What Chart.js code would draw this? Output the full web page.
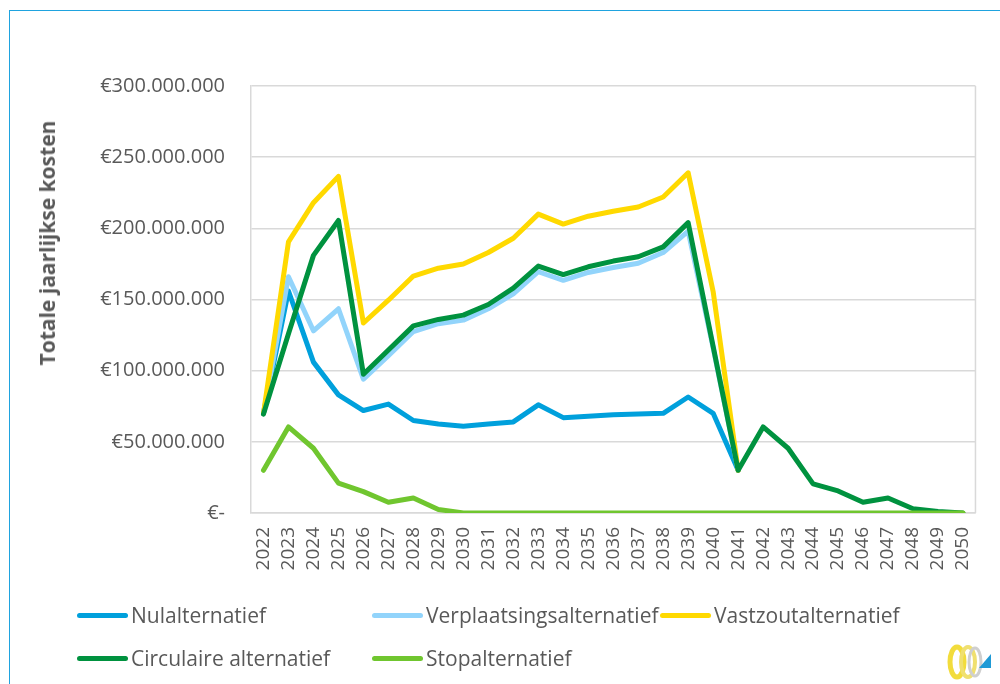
<!DOCTYPE html>
<html>
<head>
<meta charset="utf-8">
<script src="https://cdn.jsdelivr.net/npm/chart.js@4.4.1/dist/chart.umd.min.js"></script>
<style>
    html, body { margin: 0; padding: 0; background: #fff; }
    body { width: 1000px; height: 684px; position: relative; overflow: hidden; font-family: "Open Sans", sans-serif; }
    #frame { position: absolute; left: 9px; top: 10px; width: 1200px; height: 900px; border: 1px solid #1fa3df; }
    #canvas-graph { position: absolute; left: 0; top: 0; }
    #y-title { position: absolute; left: 47px; top: 243px; transform: translate(-50%, -50%) rotate(-90deg);
               white-space: nowrap; font-weight: bold; font-size: 21px; color: #595959; }
    .legend-item { position: absolute; display: flex; align-items: center; font-size: 21px; color: #595959; white-space: nowrap; }
    .legend-line { width: 51px; height: 5px; border-radius: 3px; margin-right: 3px; }
    #logo { position: absolute; left: 944px; top: 642px; }
</style>
</head>
<body>
<div id="frame"></div>
<canvas id="canvas-graph" width="1000" height="684"></canvas>
<div id="y-title">Totale jaarlijkse kosten</div>
<div id="legend"></div>
<svg id="logo" width="52" height="40" viewBox="0 0 52 40">
    <ellipse cx="13" cy="20" rx="7" ry="15" fill="none" stroke="#f2dc3c" stroke-width="5"/>
    <ellipse cx="24" cy="20" rx="7" ry="15" fill="none" stroke="#f0e070" stroke-width="4"/>
    <ellipse cx="31" cy="20" rx="6" ry="14" fill="none" stroke="#cfcfcf" stroke-width="3"/>
    <polygon points="35,26 47,26 47,12" fill="#1f9ad6"/>
</svg>

<script>
// years on the x axis
var years = ['2022', '2023', '2024', '2025', '2026', '2027', '2028', '2029', '2030', '2031',
    '2032', '2033', '2034', '2035', '2036', '2037', '2038', '2039', '2040', '2041',
    '2042', '2043', '2044', '2045', '2046', '2047', '2048', '2049', '2050'];

// yearly costs in millions of euros
var nulalternatief = [70, 156, 106, 83, 72, 76.5, 65, 62.5, 61, 62.5,
    64, 76, 67, 68, 69, 69.5, 70, 81.5, 70, 30,
    null, null, null, null, null, null, null, null, null];
var verplaatsingsalternatief = [70, 166, 128, 143.5, 94, 110.5, 127.5, 133, 135.5, 143.5,
    154, 169.5, 163.5, 169, 172.5, 175.5, 183, 198, 116, 30,
    null, null, null, null, null, null, null, null, null];
var vastzoutalternatief = [70, 190.5, 218, 236.5, 133.5, 149.5, 166.5, 172, 175, 183,
    193, 210, 203, 208.5, 212, 215, 222, 239, 155.5, 30,
    null, null, null, null, null, null, null, null, null];
var circulaireAlternatief = [69.5, 126, 181, 205.5, 97.5, 114.5, 131.5, 136, 139, 146.5,
    158, 173.5, 167.5, 173, 177, 180, 187, 204, 117, 30,
    60.5, 45.5, 20.5, 15.5, 7.5, 10.5, 3, 1, 0];
var stopalternatief = [30, 60.5, 45.5, 21, 15, 7.5, 10.5, 2.5, 0, 0,
    0, 0, 0, 0, 0, 0, 0, 0, 0, 0,
    0, 0, 0, 0, 0, 0, 0, 0, 0];

// y axis ticks in millions
var yTicks = [0, 50, 100, 150, 200, 250, 300];

var seriesNames = ['Nulalternatief', 'Verplaatsingsalternatief', 'Vastzoutalternatief', 'Circulaire alternatief', 'Stopalternatief'];
var seriesData = [nulalternatief, verplaatsingsalternatief, vastzoutalternatief, circulaireAlternatief, stopalternatief];
var seriesColors = ['#00a0dc', '#92d4fb', '#ffd900', '#00923f', '#70c62f'];

// legend positions (two rows, three columns like the original)
var legendPos = [[77, 616], [372, 616], [660, 616], [77, 659], [372, 659]];

function euro(v) {
    if (v === 0) return '€-';
    var s = String(Math.round(v * 1000000));
    return '€' + s.replace(/\B(?=(\d{3})+(?!\d))/g, '.');
}

window.addEventListener('load', () => {
    const datasets = seriesNames.map((name, i) => ({
        label: name,
        data: seriesData[i],
        borderColor: seriesColors[i],
        backgroundColor: seriesColors[i],
        borderWidth: 5,
        pointRadius: 0,
        borderJoinStyle: 'round',
        borderCapStyle: 'round',
        tension: 0,
        spanGaps: false,
        order: seriesNames.length - i
    }));

    // right edge of the plot box
    const plotFrame = {
        id: 'plotFrame',
        afterDraw(chart) {
            const a = chart.chartArea;
            const ctx = chart.ctx;
            ctx.save();
            ctx.strokeStyle = '#d9d9d9';
            ctx.lineWidth = 1.5;
            ctx.beginPath();
            ctx.moveTo(a.right, a.top);
            ctx.lineTo(a.right, a.bottom);
            ctx.stroke();
            ctx.restore();
        }
    };

    const config = {
        type: 'line',
        data: { labels: years, datasets: datasets },
        plugins: [plotFrame],
        options: {
            responsive: false,
            animation: false,
            devicePixelRatio: 1,
            layout: { padding: { top: 86, right: 13, left: 0, bottom: 0 } },
            plugins: { legend: { display: false }, tooltip: { enabled: false } },
            scales: {
                x: {
                    offset: true,
                    grid: { display: false, drawTicks: false },
                    border: { display: true, color: '#d9d9d9', width: 1.5 },
                    ticks: {
                        autoSkip: false, minRotation: 90, maxRotation: 90, padding: 14,
                        color: '#595959', font: { family: 'Open Sans', size: 19 }
                    },
                    afterFit: (scale) => { scale.height = 171; }
                },
                y: {
                    min: 0, max: 300,
                    afterBuildTicks: (scale) => { scale.ticks = yTicks.map(v => ({ value: v })); },
                    grid: { color: '#d9d9d9', lineWidth: 1.5, drawTicks: false },
                    border: { display: true, color: '#d9d9d9', width: 1.5 },
                    ticks: {
                        padding: 26, color: '#595959', font: { family: 'Open Sans', size: 20 },
                        callback: (v) => euro(v)
                    },
                    afterFit: (scale) => { scale.width = 251; }
                }
            }
        }
    };

    new Chart(document.getElementById('canvas-graph').getContext('2d'), config);

    // html legend built from the series arrays
    const legend = document.getElementById('legend');
    seriesNames.forEach((name, i) => {
        const item = document.createElement('div');
        item.className = 'legend-item';
        item.style.left = legendPos[i][0] + 'px';
        item.style.top = (legendPos[i][1] - 15) + 'px';
        const line = document.createElement('span');
        line.className = 'legend-line';
        line.style.background = seriesColors[i];
        const text = document.createElement('span');
        text.innerText = name;
        item.appendChild(line);
        item.appendChild(text);
        legend.appendChild(item);
    });
});
</script>
</body>
</html>
